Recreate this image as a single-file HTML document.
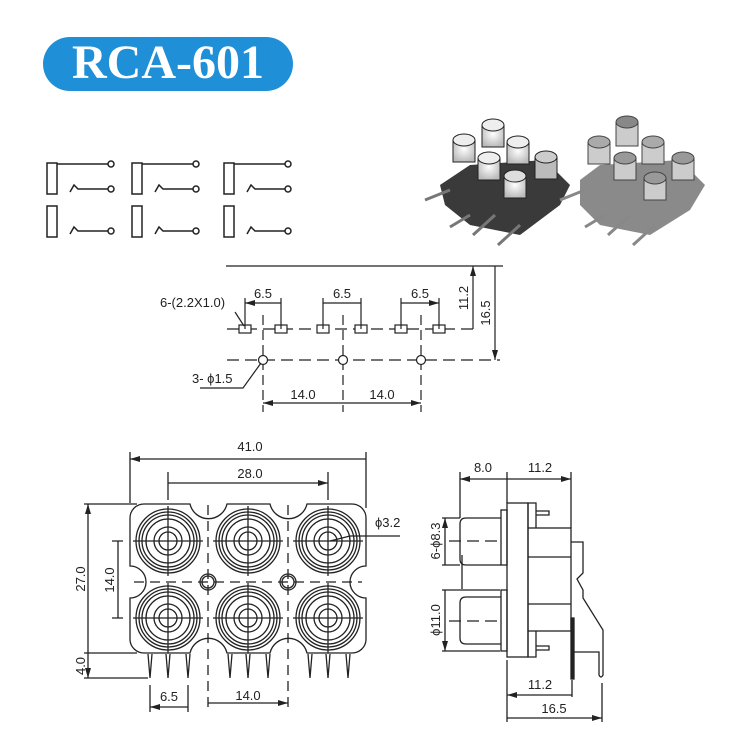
<!DOCTYPE html>
<html><head><meta charset="utf-8"><style>
html,body{margin:0;padding:0;background:#fff;}
svg{display:block;font-family:"Liberation Sans",sans-serif;}
</style></head><body>
<svg width="735" height="744" viewBox="0 0 735 744" xmlns="http://www.w3.org/2000/svg">
<defs>
<marker id="a" viewBox="0 0 10 6" refX="10" refY="3" markerWidth="10" markerHeight="6" orient="auto-start-reverse" markerUnits="userSpaceOnUse"><path d="M0,0 L10,3 L0,6 z" fill="#222"/></marker>
<radialGradient id="w" cx="0.5" cy="0.4" r="0.6"><stop offset="0" stop-color="#fff"/><stop offset="1" stop-color="#bbb"/></radialGradient>
</defs>
<!-- title -->
<rect x="43" y="37" width="250" height="54" rx="27" fill="#1f8fd8"/>
<text x="168" y="78" text-anchor="middle" font-family="Liberation Serif,serif" font-weight="bold" font-size="48" fill="#fff">RCA-601</text>

<!-- schematic -->
<g stroke="#222" stroke-width="1.5" fill="none">
<g id="s1">
<rect x="47" y="163" width="10" height="31"/>
<rect x="47" y="206" width="10" height="31"/>
<path d="M57,164 H108"/><circle cx="111" cy="164" r="3"/>
<path d="M70,192 L74,185 L78,189 H108"/><circle cx="111" cy="189" r="3"/>
<path d="M70,234 L74,227 L78,231 H108"/><circle cx="111" cy="231" r="3"/>
</g>
<use href="#s1" x="85"/>
<use href="#s1" x="177"/>
</g>

<!-- photos (approx) -->
<g>
<path d="M440,185 L470,165 L545,160 L570,185 L560,205 L520,235 L470,225 L445,205z" fill="#3a3a3a"/>
<g stroke="#222" stroke-width="1">
<rect x="482" y="125" width="22" height="22" fill="url(#w)"/><ellipse cx="493" cy="125" rx="11" ry="6" fill="#eee"/>
<rect x="453" y="140" width="22" height="22" fill="url(#w)"/><ellipse cx="464" cy="140" rx="11" ry="6" fill="#eee"/>
<rect x="507" y="142" width="22" height="22" fill="url(#w)"/><ellipse cx="518" cy="142" rx="11" ry="6" fill="#eee"/>
<rect x="478" y="158" width="22" height="22" fill="url(#w)"/><ellipse cx="489" cy="158" rx="11" ry="6" fill="#eee"/>
<rect x="535" y="157" width="22" height="22" fill="#bbb"/><ellipse cx="546" cy="157" rx="11" ry="6" fill="#ccc"/>
<rect x="504" y="176" width="22" height="22" fill="url(#w)"/><ellipse cx="515" cy="176" rx="11" ry="6" fill="#ddd"/>
</g>
<path d="M450,190 l-25,10 M470,215 l-20,12 M495,215 l-22,20 M520,225 l-22,20" stroke="#777" stroke-width="3"/>
<path d="M580,180 L600,165 L680,160 L705,185 L690,210 L650,235 L600,225 L580,205z" fill="#8a8a8a"/>
<g stroke="#444" stroke-width="1" fill="#ccc">
<rect x="616" y="122" width="22" height="24"/><ellipse cx="627" cy="122" rx="11" ry="6" fill="#888"/>
<rect x="588" y="142" width="22" height="22"/><ellipse cx="599" cy="142" rx="11" ry="6" fill="#aaa"/>
<rect x="642" y="142" width="22" height="22"/><ellipse cx="653" cy="142" rx="11" ry="6" fill="#aaa"/>
<rect x="614" y="158" width="22" height="22"/><ellipse cx="625" cy="158" rx="11" ry="6" fill="#999"/>
<rect x="672" y="158" width="22" height="22"/><ellipse cx="683" cy="158" rx="11" ry="6" fill="#999"/>
<rect x="644" y="178" width="22" height="22"/><ellipse cx="655" cy="178" rx="11" ry="6" fill="#999"/>
</g>
<path d="M585,190 l-25,10 M605,215 l-20,12 M630,215 l-22,20 M655,225 l-22,20" stroke="#888" stroke-width="3"/>
</g>

<!-- pin layout -->
<g stroke="#222" stroke-width="1.2" fill="none">
<path d="M226,266 H503"/>
<path d="M227,329 H478" stroke-dasharray="12,6"/>
<path d="M227,360 H500" stroke-dasharray="12,6"/>
<path d="M263,315 V412 M343,315 V412 M421,315 V412" stroke-dasharray="10,5"/>
<g fill="#fff">
<rect x="239" y="325" width="12" height="8"/><rect x="275" y="325" width="12" height="8"/>
<rect x="317" y="325" width="12" height="8"/><rect x="355" y="325" width="12" height="8"/>
<rect x="395" y="325" width="12" height="8"/><rect x="433" y="325" width="12" height="8"/>
<circle cx="263" cy="360" r="4.5"/><circle cx="343" cy="360" r="4.5"/><circle cx="421" cy="360" r="4.5"/>
</g>
<path d="M245,298 V329 M281,298 V329 M323,298 V329 M361,298 V329 M401,298 V329 M439,298 V329"/>
<path d="M245,303 H281 M323,303 H361 M401,303 H439" marker-start="url(#a)" marker-end="url(#a)"/>
<path d="M473,266 V329 M495,266 V360" marker-start="url(#a)" marker-end="url(#a)"/>
<path d="M263,403 H343 M343,403 H421" marker-start="url(#a)" marker-end="url(#a)"/>
<path d="M235,312 L244,326"/>
<path d="M200,388 H243 L261,363"/>
</g>
<g font-size="13" fill="#222">
<text x="263" y="298" text-anchor="middle">6.5</text>
<text x="342" y="298" text-anchor="middle">6.5</text>
<text x="420" y="298" text-anchor="middle">6.5</text>
<text x="160" y="307">6-(2.2X1.0)</text>
<text x="192" y="383">3- ϕ1.5</text>
<text x="303" y="399" text-anchor="middle">14.0</text>
<text x="382" y="399" text-anchor="middle">14.0</text>
<text transform="translate(468,298) rotate(-90)" text-anchor="middle">11.2</text>
<text transform="translate(490,313) rotate(-90)" text-anchor="middle">16.5</text>
</g>

<!-- front view -->
<g stroke="#222" stroke-width="1.3" fill="none">
<path d="M144,504 H190 A19,19 0 0 0 227,504 H270 A19,19 0 0 0 307,504 H352 A14,14 0 0 1 366,518 V566 A16,16 0 0 0 366,598 V640 A14,14 0 0 1 352,653 H307 A19,19 0 0 0 270,653 H227 A19,19 0 0 0 190,653 H144 A14,14 0 0 1 130,640 V598 A16,16 0 0 0 130,566 V518 A14,14 0 0 1 144,504z" fill="#fff"/>
<g id="j">
<circle cx="168" cy="541" r="32"/><circle cx="168" cy="541" r="29"/><circle cx="168" cy="541" r="26"/><circle cx="168" cy="541" r="22"/><circle cx="168" cy="541" r="14"/><circle cx="168" cy="541" r="9"/>
<path d="M133,541 H203 M168,506 V576"/>
</g>
<use href="#j" x="80"/><use href="#j" x="160"/>
<use href="#j" y="77"/><use href="#j" x="80" y="77"/><use href="#j" x="160" y="77"/>
<circle cx="208" cy="582" r="8"/><circle cx="208" cy="582" r="6"/>
<circle cx="288" cy="582" r="8"/><circle cx="288" cy="582" r="6"/>
<path d="M134,582 H362" stroke-dasharray="10,6"/>
<path d="M208,505 V712 M288,505 V712" stroke-dasharray="10,6"/>
<g id="p"><path d="M148,654 L150,678 L152,654 M166,654 L168,678 L170,654 M186,654 L188,678 L190,654"/></g>
<use href="#p" x="80"/><use href="#p" x="160"/>
<path d="M130,452 V503 M366,452 V508 M168,472 V500 M328,472 V500"/>
<path d="M130,459 H366 M168,483 H328" marker-start="url(#a)" marker-end="url(#a)"/>
<path d="M84,504 H137 M84,653 H137 M84,678 H148 M112,541 H123 M112,618 H123"/>
<path d="M88,504 V653 M118,541 V618 M88,653 V678" marker-start="url(#a)" marker-end="url(#a)"/>
<path d="M150,685 V712 M188,685 V712"/>
<path d="M150,707 H188 M208,703 H288" marker-start="url(#a)" marker-end="url(#a)"/>
<path d="M330,541 L350,536 H400"/>
</g>
<g font-size="13" fill="#222">
<text x="250" y="451" text-anchor="middle">41.0</text>
<text x="250" y="478" text-anchor="middle">28.0</text>
<text x="375" y="527">ϕ3.2</text>
<text transform="translate(85,579) rotate(-90)" text-anchor="middle">27.0</text>
<text transform="translate(114,580) rotate(-90)" text-anchor="middle">14.0</text>
<text transform="translate(85,666) rotate(-90)" text-anchor="middle">4.0</text>
<text x="169" y="701" text-anchor="middle">6.5</text>
<text x="248" y="700" text-anchor="middle">14.0</text>
</g>

<!-- side view -->
<g stroke="#222" stroke-width="1.3" fill="none">
<path d="M501,518 H466 Q460,518 460,524 V559 Q460,565 466,565 H501"/>
<path d="M501,597 H466 Q460,597 460,603 V638 Q460,644 466,644 H501"/>
<rect x="501" y="510" width="6" height="55"/>
<rect x="501" y="590" width="6" height="61"/>
<rect x="507" y="503" width="21" height="154"/>
<rect x="528" y="528" width="43" height="103"/>
<path d="M528,557 H571 M528,604 H571"/>
<path d="M528,528 V503 H536 V528 M536,511 H549 V515 H536"/>
<path d="M528,631 V657 H536 V631 M536,646 H549 V650 H536"/>
<path d="M571,542 H583 V573 L577,579 L583,590 V598 L603,630 V675 Q601,679 599,675 V652 H574"/>
<rect x="571" y="618" width="3" height="61" fill="#222"/>
<path d="M462,555 V589 M442,518 H460 M442,565 H460 M442,590 H500 M442,651 H500"/>
<path d="M449,541 H498 M449,621 H498" stroke-dasharray="12,6"/>
<path d="M460,472 V518 M507,472 V503 M571,472 V528"/>
<path d="M460,479 H507 M507,479 H571" marker-start="url(#a)" marker-end="url(#a)"/>
<path d="M445,518 V565 M445,590 V651" marker-start="url(#a)" marker-end="url(#a)"/>
<path d="M507,660 V722 M572,680 V697 M602,683 V722"/>
<path d="M507,695 H572 M507,718 H602" marker-start="url(#a)" marker-end="url(#a)"/>
</g>
<g font-size="13" fill="#222">
<text x="483" y="472" text-anchor="middle">8.0</text>
<text x="540" y="472" text-anchor="middle">11.2</text>
<text transform="translate(440,541) rotate(-90)" text-anchor="middle">6-ϕ8.3</text>
<text transform="translate(440,620) rotate(-90)" text-anchor="middle">ϕ11.0</text>
<text x="540" y="689" text-anchor="middle">11.2</text>
<text x="554" y="713" text-anchor="middle">16.5</text>
</g>
</svg>
</body></html>
